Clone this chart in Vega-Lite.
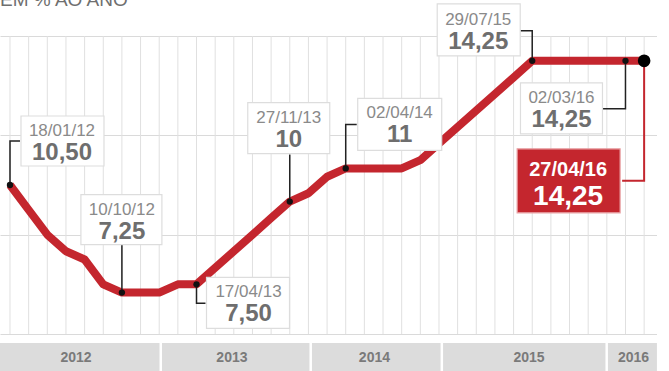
{
  "$schema": "https://vega.github.io/schema/vega-lite/v6.json",
  "padding": {"top": -10, "left": 0, "right": 0, "bottom": 0},
  "spacing": 4,
  "background": "white",
  "config": {"view": {"stroke": null}, "font": "Liberation Sans", "text": {"font": "Liberation Sans"}},
  "datasets": {
    "copom": [
      {"data": "18/01/12", "i": 0, "selic": 10.5, "rotulo": "10,50"},
      {"data": "07/03/12", "i": 1, "selic": 9.75},
      {"data": "18/04/12", "i": 2, "selic": 9.0},
      {"data": "30/05/12", "i": 3, "selic": 8.5},
      {"data": "11/07/12", "i": 4, "selic": 8.25},
      {"data": "29/08/12", "i": 5, "selic": 7.5},
      {"data": "10/10/12", "i": 6, "selic": 7.25, "rotulo": "7,25"},
      {"data": "28/11/12", "i": 7, "selic": 7.25},
      {"data": "16/01/13", "i": 8, "selic": 7.25},
      {"data": "06/03/13", "i": 9, "selic": 7.5},
      {"data": "17/04/13", "i": 10, "selic": 7.5, "rotulo": "7,50"},
      {"data": "29/05/13", "i": 11, "selic": 8.0},
      {"data": "10/07/13", "i": 12, "selic": 8.5},
      {"data": "28/08/13", "i": 13, "selic": 9.0},
      {"data": "09/10/13", "i": 14, "selic": 9.5},
      {"data": "27/11/13", "i": 15, "selic": 10.0, "rotulo": "10"},
      {"data": "15/01/14", "i": 16, "selic": 10.25},
      {"data": "26/02/14", "i": 17, "selic": 10.75},
      {"data": "02/04/14", "i": 18, "selic": 11.0, "rotulo": "11"},
      {"data": "28/05/14", "i": 19, "selic": 11.0},
      {"data": "16/07/14", "i": 20, "selic": 11.0},
      {"data": "03/09/14", "i": 21, "selic": 11.0},
      {"data": "29/10/14", "i": 22, "selic": 11.25},
      {"data": "03/12/14", "i": 23, "selic": 11.75},
      {"data": "21/01/15", "i": 24, "selic": 12.25},
      {"data": "04/03/15", "i": 25, "selic": 12.75},
      {"data": "29/04/15", "i": 26, "selic": 13.25},
      {"data": "03/06/15", "i": 27, "selic": 13.75},
      {"data": "29/07/15", "i": 28, "selic": 14.25, "rotulo": "14,25"},
      {"data": "02/09/15", "i": 29, "selic": 14.25},
      {"data": "21/10/15", "i": 30, "selic": 14.25},
      {"data": "25/11/15", "i": 31, "selic": 14.25},
      {"data": "20/01/16", "i": 32, "selic": 14.25},
      {"data": "02/03/16", "i": 33, "selic": 14.25, "rotulo": "14,25"},
      {"data": "27/04/16", "i": 34, "selic": 14.25, "rotulo": "14,25"}
    ],
    "anos": [
      {"ano": "2012", "inicio": -0.536, "fim": 8.15, "meio": 3.54},
      {"ano": "2013", "inicio": 8.15, "fim": 16.19, "meio": 11.9},
      {"ano": "2014", "inicio": 16.19, "fim": 23.22, "meio": 19.54},
      {"ano": "2015", "inicio": 23.22, "fim": 32.06, "meio": 27.83},
      {"ano": "2016", "inicio": 32.06, "fim": 34.82, "meio": 33.43}
    ]
  },
  "vconcat": [
    {
      "width": 657,
      "height": 338,
      "data": {"name": "copom"},
      "encoding": {
        "x": {"field": "i", "type": "quantitative", "scale": {"domain": [-0.536, 34.69], "nice": false, "zero": false}, "axis": null}
      },
      "layer": [
        {
          "mark": {"type": "rule", "color": "#e0e0e0", "strokeWidth": 1},
          "encoding": {
            "y": {"datum": 15, "type": "quantitative", "scale": {"domain": [5.849, 16.057], "nice": false, "zero": false},
                  "axis": {"values": [6, 9, 12, 15], "grid": true, "gridColor": "#dadada", "gridWidth": 1, "labels": false, "ticks": false, "domain": false, "title": null}},
            "y2": {"datum": 6}
          }
        },
        {
          "transform": [{"filter": "datum.i == 0"}],
          "mark": {"type": "text", "align": "left", "baseline": "alphabetic", "fontSize": 19, "color": "#6f6f6f", "text": "EM % AO ANO"},
          "encoding": {
            "x": {"datum": -0.536, "type": "quantitative"},
            "y": {"datum": 15.906, "type": "quantitative"}
          }
        },
        {
          "mark": {"type": "line", "color": "#c4262e", "strokeWidth": 8, "strokeJoin": "round"},
          "encoding": {"y": {"field": "selic", "type": "quantitative"}}
        },
        {
          "transform": [{"filter": {"field": "data", "equal": "18/01/12"}}],
          "encoding": {"y": {"field": "selic", "type": "quantitative"}},
          "layer": [
            {"mark": {"type": "point", "shape": "M0,0V-44H10", "size": 4, "filled": false, "stroke": "#222222", "strokeWidth": 1.5, "opacity": 1}},
            {"mark": {"type": "point", "shape": "M11,-69H94V-19H11Z", "size": 4, "filled": true, "fill": "white", "stroke": "#dddddd", "strokeWidth": 1.2, "opacity": 1}},
            {"mark": {"type": "text", "dx": 52, "dy": -49, "fontSize": 17, "color": "#8a8a8a", "baseline": "alphabetic"}, "encoding": {"text": {"field": "data"}}},
            {"mark": {"type": "text", "dx": 52, "dy": -25, "fontSize": 24, "fontWeight": "bold", "color": "#6e6e6e", "baseline": "alphabetic"}, "encoding": {"text": {"field": "rotulo"}}}
          ]
        },
        {
          "transform": [{"filter": {"field": "data", "equal": "10/10/12"}}],
          "encoding": {"y": {"field": "selic", "type": "quantitative"}},
          "layer": [
            {"mark": {"type": "point", "shape": "M0,0V-48", "size": 4, "filled": false, "stroke": "#222222", "strokeWidth": 1.5, "opacity": 1}},
            {"mark": {"type": "point", "shape": "M-41,-98H40V-48H-41Z", "size": 4, "filled": true, "fill": "white", "stroke": "#dddddd", "strokeWidth": 1.2, "opacity": 1}},
            {"mark": {"type": "text", "dx": 0, "dy": -78, "fontSize": 17, "color": "#8a8a8a", "baseline": "alphabetic"}, "encoding": {"text": {"field": "data"}}},
            {"mark": {"type": "text", "dx": 0, "dy": -54, "fontSize": 24, "fontWeight": "bold", "color": "#6e6e6e", "baseline": "alphabetic"}, "encoding": {"text": {"field": "rotulo"}}}
          ]
        },
        {
          "transform": [{"filter": {"field": "data", "equal": "17/04/13"}}],
          "encoding": {"y": {"field": "selic", "type": "quantitative"}},
          "layer": [
            {"mark": {"type": "point", "shape": "M0,0V19H9", "size": 4, "filled": false, "stroke": "#222222", "strokeWidth": 1.5, "opacity": 1}},
            {"mark": {"type": "point", "shape": "M10,-7H93V44H10Z", "size": 4, "filled": true, "fill": "white", "stroke": "#dddddd", "strokeWidth": 1.2, "opacity": 1}},
            {"mark": {"type": "text", "dx": 52, "dy": 13, "fontSize": 17, "color": "#8a8a8a", "baseline": "alphabetic"}, "encoding": {"text": {"field": "data"}}},
            {"mark": {"type": "text", "dx": 52, "dy": 37, "fontSize": 24, "fontWeight": "bold", "color": "#6e6e6e", "baseline": "alphabetic"}, "encoding": {"text": {"field": "rotulo"}}}
          ]
        },
        {
          "transform": [{"filter": {"field": "data", "equal": "27/11/13"}}],
          "encoding": {"y": {"field": "selic", "type": "quantitative"}},
          "layer": [
            {"mark": {"type": "point", "shape": "M0,0V-47", "size": 4, "filled": false, "stroke": "#222222", "strokeWidth": 1.5, "opacity": 1}},
            {"mark": {"type": "point", "shape": "M-42,-99H40V-48H-42Z", "size": 4, "filled": true, "fill": "white", "stroke": "#dddddd", "strokeWidth": 1.2, "opacity": 1}},
            {"mark": {"type": "text", "dx": -1, "dy": -79, "fontSize": 17, "color": "#8a8a8a", "baseline": "alphabetic"}, "encoding": {"text": {"field": "data"}}},
            {"mark": {"type": "text", "dx": -1, "dy": -55, "fontSize": 24, "fontWeight": "bold", "color": "#6e6e6e", "baseline": "alphabetic"}, "encoding": {"text": {"field": "rotulo"}}}
          ]
        },
        {
          "transform": [{"filter": {"field": "data", "equal": "02/04/14"}}],
          "encoding": {"y": {"field": "selic", "type": "quantitative"}},
          "layer": [
            {"mark": {"type": "point", "shape": "M0,0V-44H11", "size": 4, "filled": false, "stroke": "#222222", "strokeWidth": 1.5, "opacity": 1}},
            {"mark": {"type": "point", "shape": "M12,-70H96V-18H12Z", "size": 4, "filled": true, "fill": "white", "stroke": "#dddddd", "strokeWidth": 1.2, "opacity": 1}},
            {"mark": {"type": "text", "dx": 54, "dy": -50, "fontSize": 17, "color": "#8a8a8a", "baseline": "alphabetic"}, "encoding": {"text": {"field": "data"}}},
            {"mark": {"type": "text", "dx": 54, "dy": -26, "fontSize": 24, "fontWeight": "bold", "color": "#6e6e6e", "baseline": "alphabetic"}, "encoding": {"text": {"field": "rotulo"}}}
          ]
        },
        {
          "transform": [{"filter": {"field": "data", "equal": "29/07/15"}}],
          "encoding": {"y": {"field": "selic", "type": "quantitative"}},
          "layer": [
            {"mark": {"type": "point", "shape": "M0,0V-30H-12", "size": 4, "filled": false, "stroke": "#222222", "strokeWidth": 1.5, "opacity": 1}},
            {"mark": {"type": "point", "shape": "M-95,-57H-12V-5H-95Z", "size": 4, "filled": true, "fill": "white", "stroke": "#dddddd", "strokeWidth": 1.2, "opacity": 1}},
            {"mark": {"type": "text", "dx": -54, "dy": -36, "fontSize": 17, "color": "#8a8a8a", "baseline": "alphabetic"}, "encoding": {"text": {"field": "data"}}},
            {"mark": {"type": "text", "dx": -54, "dy": -12, "fontSize": 24, "fontWeight": "bold", "color": "#6e6e6e", "baseline": "alphabetic"}, "encoding": {"text": {"field": "rotulo"}}}
          ]
        },
        {
          "transform": [{"filter": {"field": "data", "equal": "02/03/16"}}],
          "encoding": {"y": {"field": "selic", "type": "quantitative"}},
          "layer": [
            {"mark": {"type": "point", "shape": "M0,0V48H-23", "size": 4, "filled": false, "stroke": "#222222", "strokeWidth": 1.5, "opacity": 1}},
            {"mark": {"type": "point", "shape": "M-105,22H-23V73H-105Z", "size": 4, "filled": true, "fill": "white", "stroke": "#dddddd", "strokeWidth": 1.2, "opacity": 1}},
            {"mark": {"type": "text", "dx": -64, "dy": 42, "fontSize": 17, "color": "#8a8a8a", "baseline": "alphabetic"}, "encoding": {"text": {"field": "data"}}},
            {"mark": {"type": "text", "dx": -64, "dy": 66, "fontSize": 24, "fontWeight": "bold", "color": "#6e6e6e", "baseline": "alphabetic"}, "encoding": {"text": {"field": "rotulo"}}}
          ]
        },
        {
          "transform": [{"filter": {"field": "data", "equal": "27/04/16"}}],
          "encoding": {"y": {"field": "selic", "type": "quantitative"}},
          "layer": [
            {"mark": {"type": "point", "shape": "M0,0V120H-22", "size": 4, "filled": false, "stroke": "#c4262e", "strokeWidth": 2, "opacity": 1}},
            {"mark": {"type": "point", "shape": "M-127,88H-24V152H-127Z", "size": 4, "filled": true, "fill": "#c4262e", "stroke": "#e9a3a6", "strokeWidth": 1.2, "opacity": 1}},
            {"mark": {"type": "text", "dx": -76, "dy": 115, "fontSize": 20, "fontWeight": "bold", "color": "white", "baseline": "alphabetic"}, "encoding": {"text": {"field": "data"}}},
            {"mark": {"type": "text", "dx": -76, "dy": 144, "fontSize": 28, "fontWeight": "bold", "color": "white", "baseline": "alphabetic"}, "encoding": {"text": {"field": "rotulo"}}}
          ]
        },
        {
          "transform": [{"filter": "isValid(datum.rotulo) && datum.i < 34"}],
          "mark": {"type": "circle", "size": 40, "color": "#111111", "opacity": 1},
          "encoding": {"y": {"field": "selic", "type": "quantitative"}}
        },
        {
          "transform": [{"filter": "datum.i == 34"}],
          "mark": {"type": "circle", "size": 160, "color": "#000000", "opacity": 1},
          "encoding": {"y": {"field": "selic", "type": "quantitative"}}
        }
      ]
    },
    {
      "width": 657,
      "height": 29,
      "data": {"name": "anos"},
      "layer": [
        {
          "mark": {"type": "rect", "color": "#dcdcdc", "x2Offset": -2.5},
          "encoding": {
            "x": {"field": "inicio", "type": "quantitative", "scale": {"domain": [-0.536, 34.69], "nice": false, "zero": false}, "axis": null},
            "x2": {"field": "fim"}
          }
        },
        {
          "mark": {"type": "text", "fontSize": 14, "fontWeight": "bold", "color": "#7a7a7a", "baseline": "middle", "align": "center"},
          "encoding": {
            "x": {"field": "meio", "type": "quantitative"},
            "text": {"field": "ano"}
          }
        }
      ]
    }
  ]
}
